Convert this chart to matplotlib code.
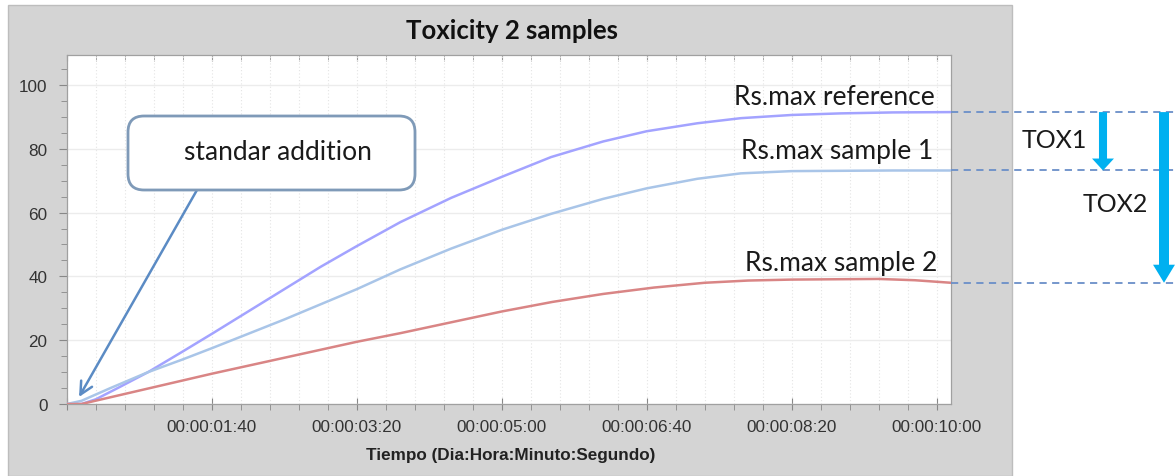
import matplotlib
matplotlib.use("Agg")
import matplotlib.pyplot as plt
from matplotlib.patches import Rectangle, FancyBboxPatch, FancyArrowPatch
from matplotlib.lines import Line2D
from matplotlib.ticker import MultipleLocator, FuncFormatter
import matplotlib.transforms as mtransforms

# ---------------- data ----------------
title = "Toxicity 2 samples"
x_label = "Tiempo (Dia:Hora:Minuto:Segundo)"

t_ref = [0, 10, 20, 35, 56, 80, 100, 125, 150, 175, 200, 230, 265, 300, 334, 370, 400, 435, 465, 500, 534, 570, 610]
v_ref = [0, 0, 1.5, 5, 10, 16.5, 22, 29, 36, 43, 49.5, 57, 64.6, 71.2, 77.4, 82.3, 85.5, 88, 89.6, 90.6, 91.1, 91.4, 91.5]

t_s1 = [0, 10, 30, 56, 80, 100, 150, 200, 230, 265, 300, 334, 370, 400, 435, 465, 500, 534, 570, 610]
v_s1 = [0, 1, 5, 10, 14, 17.5, 26.5, 36, 42.2, 48.7, 54.6, 59.6, 64.3, 67.6, 70.6, 72.3, 73, 73.1, 73.2, 73.2]

t_s2 = [0, 10, 100, 200, 230, 300, 335, 370, 405, 440, 470, 500, 530, 560, 585, 610]
v_s2 = [0, 0, 9.5, 19.5, 22.2, 29, 32, 34.5, 36.5, 38, 38.7, 39, 39.1, 39.2, 38.8, 38]

series_names = ["Rs.max reference", "Rs.max sample 1", "Rs.max sample 2"]
series_colors = ["#a3a3ff", "#a9c5e8", "#d98585"]
plateaus = [91.5, 73.2, 38.0]

callout_text = "standar addition"
tox_labels = ["TOX1", "TOX2"]

x_major = [0, 100, 200, 300, 400, 500, 600]
y_major = [0, 20, 40, 60, 80, 100]


def fmt_time(s, pos=None):
    s = int(round(s))
    if s <= 0:
        return ""
    d, r = divmod(s, 86400)
    h, r = divmod(r, 3600)
    m, sec = divmod(r, 60)
    return f"{d:02d}:{h:02d}:{m:02d}:{sec:02d}"


# ---------------- figure ----------------
W, H = 1176, 477
fig = plt.figure(figsize=(W / 100, H / 100), dpi=100)
fig.patch.set_facecolor("white")
# pixel transform (origin bottom-left)
pix = mtransforms.Affine2D().scale(1 / W, 1 / H) + fig.transFigure

# gray panel
fig.add_artist(Rectangle((8 / W, 0), (1012 - 8) / W, (H - 6) / H, transform=fig.transFigure,
                         facecolor="#d4d4d4", edgecolor="#bdbdbd", lw=1.0, zorder=0))

ax = fig.add_axes([67 / W, (H - 405) / H, (951 - 67) / W, (405 - 56) / H])
ax.set_facecolor("white")
ax.set_xlim(0, 610)
ax.set_ylim(0, 109.4)

for sp in ax.spines.values():
    sp.set_color("#a0a0a0")
    sp.set_linewidth(0.9)

ax.set_xticks(x_major)
ax.xaxis.set_major_formatter(FuncFormatter(fmt_time))
ax.xaxis.set_minor_locator(MultipleLocator(20))
ax.set_yticks(y_major)
ax.yaxis.set_minor_locator(MultipleLocator(5))

ax.tick_params(axis="x", which="major", direction="inout", length=9, color="#888888",
               labelsize=12.3, labelcolor="#333333", pad=6)
ax.tick_params(axis="x", which="minor", direction="out", length=4, color="#888888")
ax.tick_params(axis="y", which="major", direction="out", length=6, color="#888888",
               labelsize=12.3, labelcolor="#333333", pad=8)
ax.tick_params(axis="y", which="minor", direction="out", length=4, color="#888888")
for lab in ax.get_xticklabels() + ax.get_yticklabels():
    lab.set_fontfamily("Liberation Sans")

ax.grid(True, which="major", axis="y", color="#ececec", lw=1.0, zorder=0)
ax.grid(True, which="minor", axis="x", color="#e4e4e4", lw=0.8, ls=(0, (1, 2)), zorder=0)
ax.grid(True, which="major", axis="x", color="#e4e4e4", lw=0.8, ls=(0, (1, 2)), zorder=0)

sec = ax.secondary_xaxis("top")
sec.set_xticks(x_major)
sec.xaxis.set_minor_locator(MultipleLocator(20))
sec.tick_params(which="both", direction="in", length=4, color="#999999", labeltop=False)
sec.spines["top"].set_visible(False)

# curves
for tt, vv, c in zip([t_ref, t_s1, t_s2], [v_ref, v_s1, v_s2], series_colors):
    ax.plot(tt, vv, color=c, lw=1.8, solid_capstyle="round", solid_joinstyle="round", zorder=3)

# series labels
label_pos = [(599, 96.5), (598, 79.5), (600.5, 44.3)]
for name, (lx, ly) in zip(series_names, label_pos):
    ax.text(lx, ly, name, ha="right", va="center", fontsize=19, family="Lato",
            color="#1a1a1a", zorder=5)

# titles
fig.text(512 / W, 1 - 31 / H, title, ha="center", va="center", fontsize=18.5,
         fontweight="bold", family="Lato", color="#111111")
fig.text(511 / W, 1 - 456 / H, x_label, ha="center", va="center", fontsize=12.3,
         fontweight="bold", family="Liberation Sans", color="#222222")

# callout box (pixel coordinates)
box = FancyBboxPatch((128, H - 191), 415 - 128, 191 - 117, transform=pix,
                     boxstyle="round,pad=0,rounding_size=16",
                     facecolor="white", edgecolor="#7f9ab8", lw=2.0, zorder=6)
fig.add_artist(box)
fig.text(278 / W, 1 - 153 / H, callout_text, ha="center", va="center",
         fontsize=19, family="Lato", color="#1a1a1a", zorder=7)
ax.annotate("", xy=(8.3, 2.2), xycoords="data", xytext=(0.147, 0.613), textcoords="axes fraction",
            arrowprops=dict(arrowstyle="->,head_length=0.9,head_width=0.45", color="#5b8bc4", lw=1.8,
                            shrinkA=0, shrinkB=0), zorder=6)

# dashed reference lines outside the plot
bt = mtransforms.blended_transform_factory(fig.transFigure, ax.transData)
for p in plateaus:
    fig.add_artist(Line2D([951 / W, 1.0], [p, p], transform=bt, color="#6a8fc8", lw=1.3,
                          ls=(0, (4, 3)), zorder=5))

px2pt = 72 / 100
arr_style = f"simple,head_length={12*px2pt:.1f},head_width={22*px2pt:.1f},tail_width={8*px2pt:.1f}"
a1 = FancyArrowPatch((1103 / W, plateaus[0]), (1103 / W, plateaus[1]), transform=bt,
                     arrowstyle=arr_style, mutation_scale=1, color="#00b0f0", lw=0,
                     shrinkA=0, shrinkB=0, zorder=6)
arr_style2 = f"simple,head_length={18*px2pt:.1f},head_width={22*px2pt:.1f},tail_width={10*px2pt:.1f}"
a2 = FancyArrowPatch((1164 / W, plateaus[0]), (1164 / W, plateaus[2]), transform=bt,
                     arrowstyle=arr_style2, mutation_scale=1, color="#00b0f0", lw=0,
                     shrinkA=0, shrinkB=0, zorder=6)
fig.add_artist(a1)
fig.add_artist(a2)

fig.text(1054 / W, 82.8, tox_labels[0], transform=bt, ha="center", va="center",
         fontsize=18, family="Lato", color="#1a1a1a")
fig.text(1115 / W, 62.7, tox_labels[1], transform=bt, ha="center", va="center",
         fontsize=18, family="Lato", color="#1a1a1a")

fig.savefig("out.png", dpi=100)
